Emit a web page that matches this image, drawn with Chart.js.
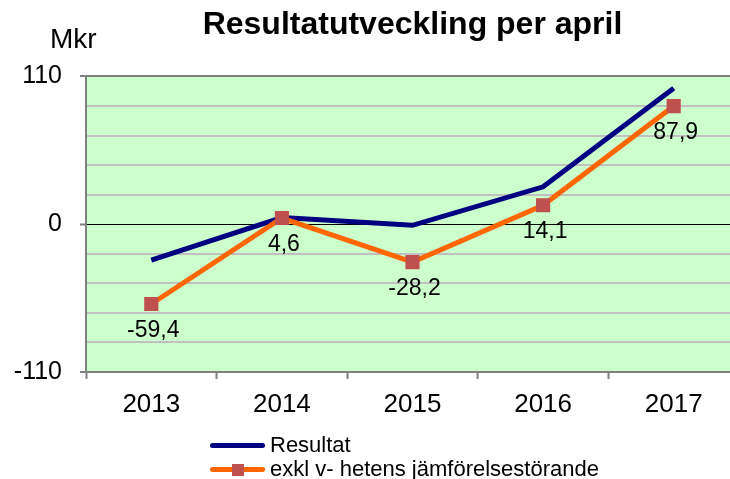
<!DOCTYPE html>
<html>
<head>
<meta charset="utf-8">
<script src="https://cdn.jsdelivr.net/npm/chart.js@4"></script>
<style>
  html, body { margin: 0; padding: 0; background: #fff; overflow: hidden; }
  #wrap { position: relative; width: 730px; height: 479px; overflow: hidden; }
  #chart { position: absolute; left: 0; top: 0; }
  .legend { position: absolute; left: 210px; top: 433px; font-family: "Liberation Sans", Arial, sans-serif; font-size: 22px; color: #000; }
  .legend .row { position: relative; height: 24px; line-height: 24px; padding-left: 60px; white-space: nowrap; }
  .legend .line { position: absolute; left: 0; top: 10px; width: 55px; height: 5px; border-radius: 3px; }
  .legend .mark { position: absolute; left: 22px; top: 6.5px; width: 12px; height: 12px; background: #C0504D; }
</style>
</head>
<body>
<div id="wrap">
  <canvas id="chart" width="760" height="479"></canvas>
  <div class="legend">
    <div class="row"><span class="line" style="background:#000080"></span>Resultat</div>
    <div class="row"><span class="line" style="background:#FF6600"></span><span class="mark"></span>exkl v- hetens jämförelsestörande</div>
  </div>
</div>
<script>
// Resultatutveckling per april (Mkr)
const years = ['2013', '2014', '2015', '2016', '2017'];
const resultat = [-26.8, 4.9, -0.8, 27.8, 101.2];
const exklJmf = [-59.4, 4.6, -28.2, 14.1, 87.9];
const yLabels = [-110, 0, 110];

const FONT = '"Liberation Sans", Arial, sans-serif';

// etiketter under orange punkter + "Mkr"
const extraText = {
  id: 'extraText',
  afterDatasetsDraw(chart) {
    const c = chart.ctx;
    const meta = chart.getDatasetMeta(1);
    c.save();
    c.fillStyle = '#000';
    c.font = '23px ' + FONT;
    c.textAlign = 'center';
    c.textBaseline = 'top';
    meta.data.forEach((pt, i) => {
      c.fillText(String(exklJmf[i]).replace('.', ','), pt.x + 2, pt.y + 15);
    });
    c.font = '28px ' + FONT;
    c.textAlign = 'left';
    c.textBaseline = 'alphabetic';
    c.fillText('Mkr', 50, 48);
    c.restore();
  }
};

new Chart(document.getElementById('chart'), {
  type: 'line',
  data: {
    labels: years,
    datasets: [
      {
        label: 'Resultat',
        data: resultat,
        borderColor: '#000080',
        borderWidth: 5,
        pointRadius: 0,
        tension: 0,
        order: 1
      },
      {
        label: 'exkl v- hetens jämförelsestörande',
        data: exklJmf,
        borderColor: '#FF6600',
        borderWidth: 5,
        pointStyle: 'rect',
        pointRadius: 10,
        pointBackgroundColor: '#C0504D',
        pointBorderColor: '#C0504D',
        pointBorderWidth: 0,
        tension: 0,
        order: 0
      }
    ]
  },
  options: {
    responsive: false,
    animation: false,
    layout: { padding: { left: 0, right: 21, top: 0, bottom: 57 } },
    plugins: {
      legend: { display: false },
      tooltip: { enabled: false },
      title: {
        display: true,
        fullSize: false,
        text: 'Resultatutveckling per april',
        color: '#000',
        font: { family: FONT, size: 32, weight: 'bold' },
        padding: { top: 6, bottom: 32 }
      }
    },
    scales: {
      x: {
        offset: true,
        grid: {
          offset: true,
          drawOnChartArea: false,
          drawTicks: true,
          tickLength: 7,
          tickColor: '#808080',
          tickWidth: 2
        },
        border: { color: '#808080', width: 2 },
        ticks: { color: '#000', font: { family: FONT, size: 26 }, padding: 10 },
        afterFit: s => { s.height = 50; }
      },
      y: {
        min: -110,
        max: 110,
        grid: {
          color: ctx => ctx.tick.value === 0 ? '#000' : (ctx.tick.value === 110 ? '#808080' : '#C0C0C0'),
          lineWidth: ctx => ctx.tick.value === 0 ? 1 : 2,
          tickColor: ctx => yLabels.includes(ctx.tick.value) ? '#808080' : 'rgba(0,0,0,0)',
          tickLength: 6,
          tickWidth: 2
        },
        border: { color: '#808080', width: 2 },
        ticks: {
          count: 11,
          autoSkip: false,
          color: '#000',
          font: { family: FONT, size: 25 },
          padding: 18,
          callback: v => yLabels.includes(Math.round(v)) ? Math.round(v) : ''
        },
        afterFit: s => { s.width = 86; }
      }
    }
  },
  plugins: [{
    id: 'plotBg',
    beforeDraw(chart) {
      const a = chart.chartArea;
      chart.ctx.save();
      chart.ctx.fillStyle = '#CCFFCC';
      chart.ctx.fillRect(a.left, a.top, a.right - a.left, a.bottom - a.top);
      chart.ctx.restore();
    }
  }, extraText]
});
</script>
</body>
</html>
